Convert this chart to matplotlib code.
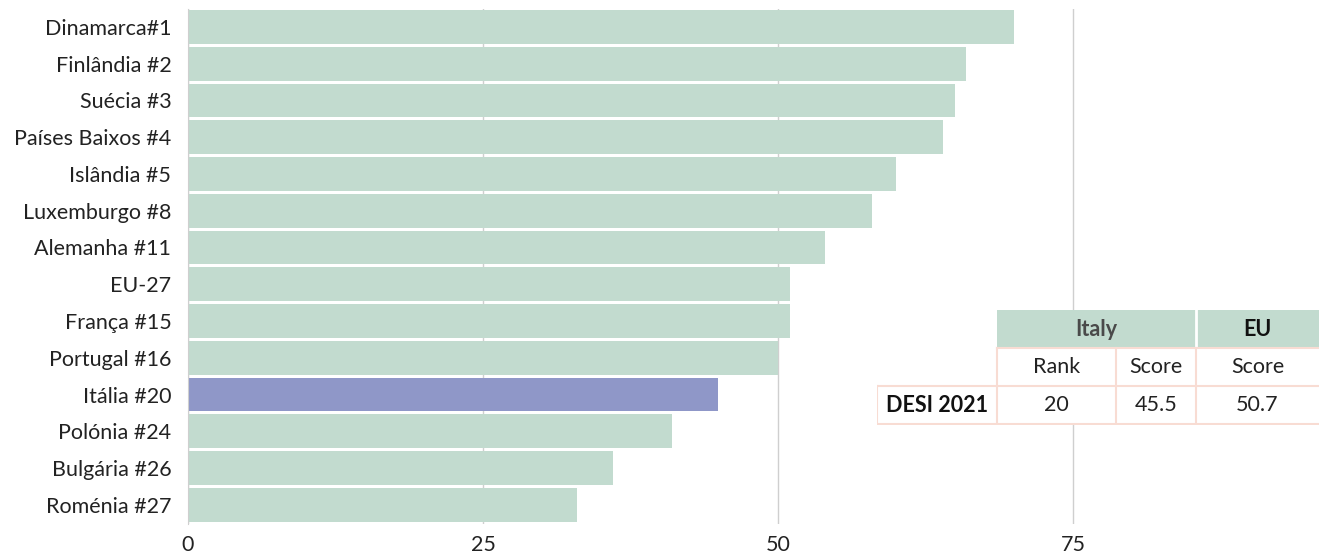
import numpy as np
import matplotlib.pyplot as plt
from matplotlib.patches import Rectangle

plt.rcParams['font.family'] = ['Lato', 'DejaVu Sans']

# dados do gráfico
paises = ['Dinamarca#1', 'Finlândia #2', 'Suécia #3', 'Países Baixos #4', 'Islândia #5',
          'Luxemburgo #8', 'Alemanha #11', 'EU-27', 'França #15', 'Portugal #16',
          'Itália #20', 'Polónia #24', 'Bulgária #26', 'Roménia #27']
valores = [70.0, 65.9, 65.0, 64.0, 60.0, 58.0, 54.0, 51.0, 51.0, 50.0, 44.9, 41.0, 36.0, 33.0]
destaque = 'Itália #20'
xticks = [0, 25, 50, 75]

# dados da tabela
tab_header = ['Italy', 'EU']
tab_sub = ['Rank', 'Score', 'Score']
tab_row_label = 'DESI 2021'
tab_row = ['20', '45.5', '50.7']

verde = '#c2dbcf'
roxo = '#8f97c8'
rosa = '#f8dcd3'
fs = 15.5

W, H = 1319, 554
fig = plt.figure(figsize=(W / 100, H / 100), dpi=100)
fig.patch.set_facecolor('white')

ax = fig.add_axes([188 / W, 1 - 524 / H, 1 - 188 / W, (524 - 8.5) / H])
cores = [roxo if p == destaque else verde for p in paises]
y = np.arange(len(paises))
ax.barh(y, valores, height=0.92, color=cores, zorder=2)
ax.set_ylim(13.52, -0.5)
ax.set_xlim(0, 95.85)
ax.set_yticks(y)
ax.set_yticklabels(paises, fontsize=fs, color='#222222')
ax.set_xticks(xticks)
ax.set_xticklabels([str(v) for v in xticks], fontsize=fs, color='#222222')
ax.tick_params(axis='y', length=0, pad=12)
ax.tick_params(axis='x', length=0, pad=8)
ax.xaxis.grid(True, color='#cfcfcf', lw=1, zorder=1)
ax.set_axisbelow(True)
for s in ['top', 'right', 'bottom']:
    ax.spines[s].set_visible(False)
ax.spines['left'].set_color('#cfcfcf')

# tabela sobreposta
tx = fig.add_axes([877 / W, 1 - 425 / H, 1 - 877 / W, (425 - 310) / H])
tx.set_xlim(877, 1319)
tx.set_ylim(425, 310)
tx.axis('off')
cols = [877, 997, 1116, 1196, 1319]
tx.add_patch(Rectangle((877, 310), 442, 115, facecolor='white', edgecolor='none'))
tx.add_patch(Rectangle((997, 310), 199, 38, facecolor=verde, edgecolor='none'))
tx.add_patch(Rectangle((1196, 310), 123, 38, facecolor=verde, edgecolor='none'))
tx.plot([1196, 1196], [310, 348], color='white', lw=2)
tx.text((997 + 1196) / 2, 329, tab_header[0], ha='center', va='center', fontsize=fs,
        fontweight='bold', color='#4a4a4a')
tx.text((1196 + 1319) / 2, 329, tab_header[1], ha='center', va='center', fontsize=fs,
        fontweight='bold', color='#111111')
# linhas rosa
tx.plot([997, 1319], [348, 348], color=rosa, lw=1.5)
tx.plot([877, 1319], [386, 386], color=rosa, lw=1.5)
tx.plot([877, 1319], [424, 424], color=rosa, lw=1.5)
tx.plot([877, 877], [386, 424], color=rosa, lw=1.5)
tx.plot([997, 997], [348, 424], color=rosa, lw=1.5)
tx.plot([1116, 1116], [348, 424], color=rosa, lw=1.5)
tx.plot([1196, 1196], [348, 424], color=rosa, lw=1.5)
for i, t in enumerate(tab_sub):
    tx.text((cols[i + 1] + cols[i + 2]) / 2, 367, t, ha='center', va='center',
            fontsize=fs, color='#222222')
    tx.text((cols[i + 1] + cols[i + 2]) / 2, 405, tab_row[i], ha='center', va='center',
            fontsize=fs, color='#222222')
tx.text(937, 405, tab_row_label, ha='center', va='center', fontsize=fs,
        fontweight='bold', color='#111111')

plt.savefig('out.png', dpi=100)
